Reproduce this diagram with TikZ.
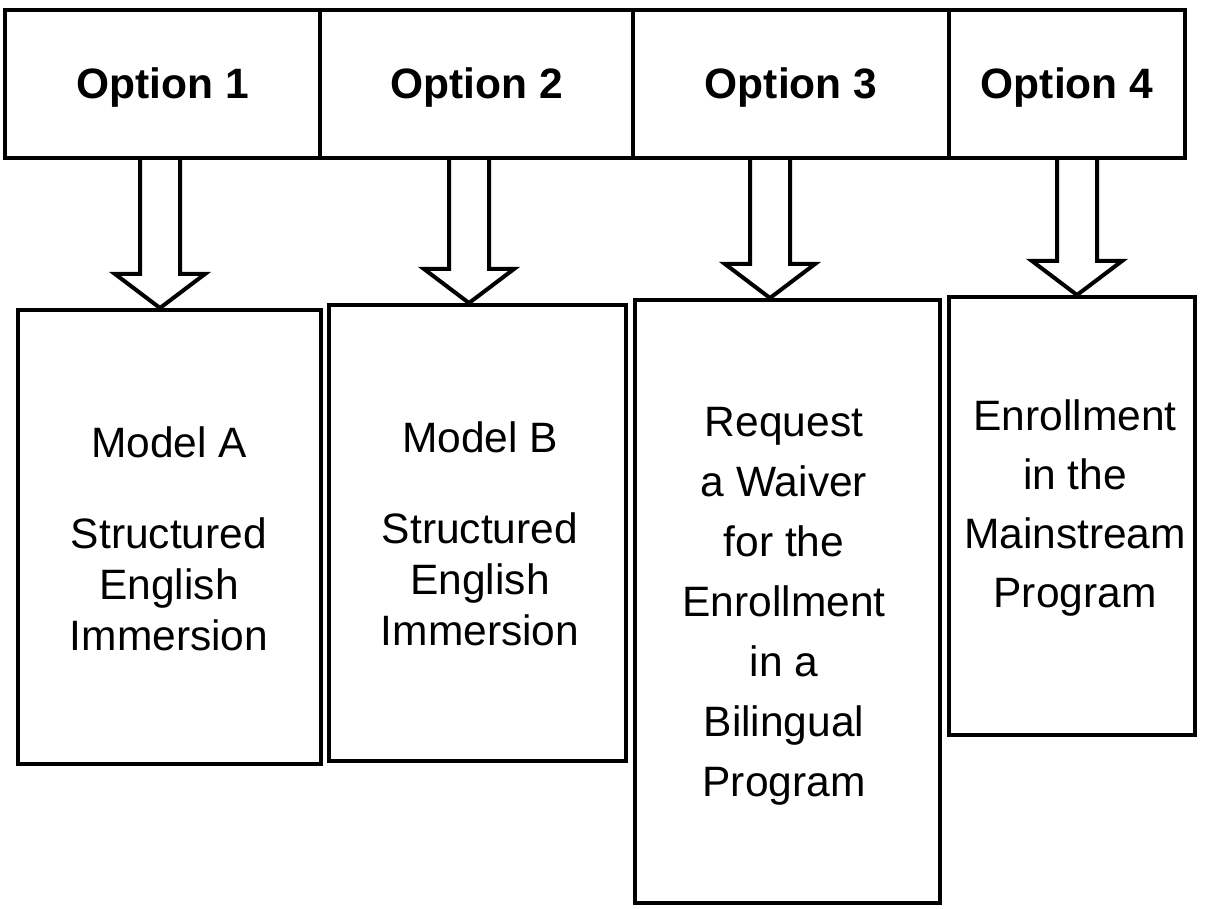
\documentclass[tikz,border=0pt]{standalone}
\usepackage{fontspec}
\setmainfont{Liberation Sans}
\usetikzlibrary{calc}

\tikzset{
  optbox/.style={draw, line width=4pt, minimum height=148pt, inner sep=0pt,
    font=\bfseries\fontsize{42.5}{51}\selectfont, text height=30pt, text depth=0pt},
  modelbox/.style={draw, line width=4pt, inner sep=0pt},
  boxtext/.style={anchor=north, inner sep=0pt, align=center},
  blockarrow/.style={draw, line width=4pt, line join=miter}
}

% hollow block arrow from the bottom of #1 to the top of #2, shifted by #3 in x
\newcommand\hollowarrow[3]{%
  \draw[blockarrow] let \p1=($(#1.south)+(#3,0)$), \p2=(#2.north) in
    (\x1-20pt,\y1) -- (\x1-20pt,\y2+34pt) -- (\x1-45pt,\y2+34pt) -- (\x1,\y2)
    -- (\x1+45pt,\y2+34pt) -- (\x1+20pt,\y2+34pt) -- (\x1+20pt,\y1);}

\begin{document}
\begin{tikzpicture}[x=1pt,y=-1pt]
  \useasboundingbox (0,0) rectangle (1207,909);

  % option row
  \node[optbox, minimum width=315pt] (o1) at (162.5,84) {Option 1};
  \node[optbox, minimum width=313pt] (o2) at (476.5,84) {Option 2};
  \node[optbox, minimum width=316pt] (o3) at (791,84)   {Option 3};
  \node[optbox, minimum width=236pt] (o4) at (1067,84)  {Option 4};

  % program boxes
  \node[modelbox, minimum width=303pt, minimum height=454pt] (mA) at (169.5,537)  {};
  \node[modelbox, minimum width=297pt, minimum height=456pt] (mB) at (477.5,533)  {};
  \node[modelbox, minimum width=305pt, minimum height=603pt] (mC) at (787.5,601.5) {};
  \node[modelbox, minimum width=246pt, minimum height=438pt] (mD) at (1072,516)   {};

  % box texts
  \node[boxtext, font=\fontsize{42.5}{51}\selectfont] (tA) at (169,426.5)
    {Model A\\[40pt]Structured\\English\\Immersion};
  \node[boxtext, font=\fontsize{42.5}{51}\selectfont] (tB) at (480,421.5)
    {Model B\\[40pt]Structured\\English\\Immersion};
  \node[boxtext, font=\fontsize{42.5}{60}\selectfont] (tC) at (784,407.5)
    {Request\\a Waiver\\for the\\Enrollment\\in a\\Bilingual\\Program};
  \node[boxtext, font=\fontsize{42.5}{59}\selectfont] (tD) at (1075,399.5)
    {Enrollment\\in the\\Mainstream\\Program};

  % arrows
  \hollowarrow{o1}{mA}{-2.5}
  \hollowarrow{o2}{mB}{-7.5}
  \hollowarrow{o3}{mC}{-21}
  \hollowarrow{o4}{mD}{10}
\end{tikzpicture}
\end{document}
